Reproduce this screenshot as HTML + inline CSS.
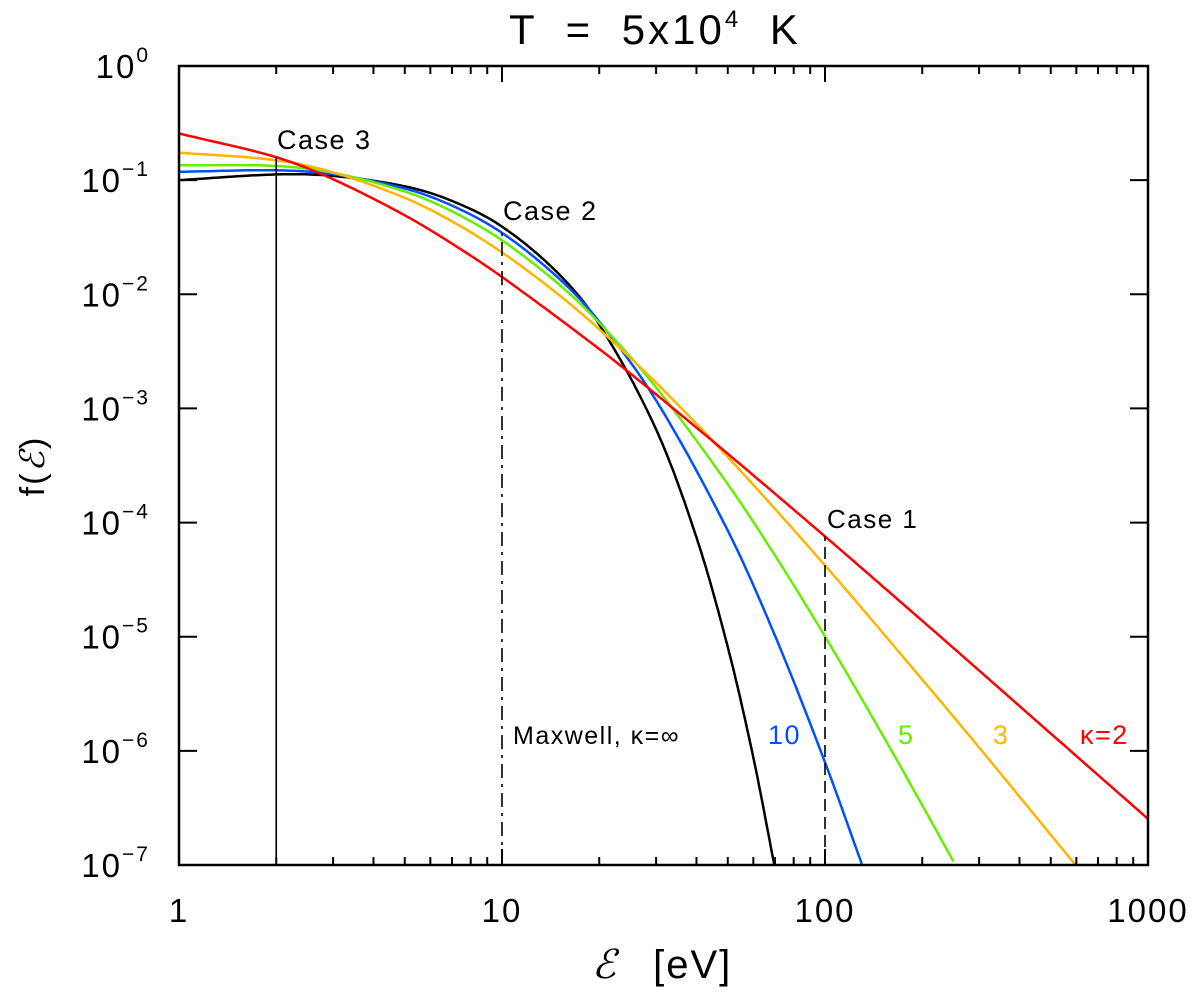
<!DOCTYPE html>
<html><head><meta charset="utf-8"><style>
body{margin:0;background:#fff}
svg text{font-family:"Liberation Sans","DejaVu Sans",sans-serif}
</style></head><body>
<svg id="chart" width="1200" height="992" viewBox="0 0 1200 992" xmlns="http://www.w3.org/2000/svg">
<text x="655" y="44" font-size="42" text-anchor="middle" letter-spacing="3" word-spacing="14">T = 5x10<tspan font-size="24" dy="-17">4</tspan><tspan dy="17"> K</tspan></text>
<text x="662" y="978" font-size="40" text-anchor="middle" letter-spacing="2" word-spacing="22"><tspan font-family="Liberation Serif" font-style="italic">ℰ</tspan> [eV]</text>
<text transform="translate(44,466) rotate(-90)" font-size="34" text-anchor="middle" letter-spacing="2">f(<tspan font-family="Liberation Serif" font-style="italic">ℰ</tspan>)</text>
<g id="plot"></g>
</svg>
<script>
// data (log10 of f) sampled from the figure
const maxwellE = [1,2,3,5,7,10,15,20,30,40,50,60,70];
const maxwellLogF = [-1.0,-0.95,-0.963,-1.054,-1.182,-1.407,-1.823,-2.264,-3.184,-4.13,-5.09,-6.058,-7.03];
const k10E = [1,2,3,5,7,10,15,20,30,50,70,100,130];
const k10LogF = [-0.927,-0.914,-0.948,-1.073,-1.223,-1.462,-1.861,-2.239,-2.93,-4.07,-4.99,-6.10,-6.99];
const k5E = [1,2,3,5,7,10,15,20,30,50,70,100,150,200,250];
const k5LogF = [-0.869,-0.876,-0.936,-1.099,-1.273,-1.527,-1.912,-2.25,-2.816,-3.663,-4.287,-4.997,-5.849,-6.475,-6.97];
const k3E = [1,2,3,5,7,10,15,20,30,50,100,200,300,500,600];
const k3LogF = [-0.759,-0.826,-0.932,-1.155,-1.361,-1.633,-2.005,-2.306,-2.775,-3.425,-4.375,-5.375,-5.97,-6.735,-7.008];
const k2E = [1,2,3,5,7,10,20,30,50,100,200,300,500,1000];
const k2LogF = [-0.591,-0.799,-0.992,-1.308,-1.556,-1.848,-2.479,-2.877,-3.397,-4.121,-4.86,-5.296,-5.848,-6.596];
const xTickLabels = ["1","10","100","1000"];
const yTickExps = [0,-1,-2,-3,-4,-5,-6,-7];

const X0=179,X1=1148,Y0=66,Y1=865;
const xs = e => X0 + (Math.log10(e)-0)/3*(X1-X0);
const ys = l => Y0 + (0-l)/7*(Y1-Y0);
const NS="http://www.w3.org/2000/svg";
const g=document.getElementById('plot');
function mk(tag,attrs){const el=document.createElementNS(NS,tag);for(const k in attrs)el.setAttribute(k,attrs[k]);g.appendChild(el);return el;}

const defs=mk('defs',{});
const cp=document.createElementNS(NS,'clipPath');cp.setAttribute('id','clip');
const cr=document.createElementNS(NS,'rect');cr.setAttribute('x',X0);cr.setAttribute('y',Y0);cr.setAttribute('width',X1-X0);cr.setAttribute('height',Y1-Y0);
cp.appendChild(cr);defs.appendChild(cp);

function interp(E,L){
  const lx=E.map(Math.log10);let pts=[];
  for(let i=0;i<lx.length-1;i++){
    const n=20;
    for(let j=0;j<n;j++){
      const t=j/n;
      const p0=L[Math.max(i-1,0)],p1=L[i],p2=L[i+1],p3=L[Math.min(i+2,L.length-1)];
      const x0=lx[Math.max(i-1,0)],x1=lx[i],x2=lx[i+1],x3=lx[Math.min(i+2,lx.length-1)];
      const m1=(p2-p0)/((x2-x0)||1),m2=(p3-p1)/((x3-x1)||1);
      const h=x2-x1,t2=t*t,t3=t2*t;
      const v=(2*t3-3*t2+1)*p1+(t3-2*t2+t)*h*m1+(-2*t3+3*t2)*p2+(t3-t2)*h*m2;
      pts.push([X0+(x1+t*h)/3*(X1-X0),ys(v)]);
    }
  }
  pts.push([xs(E[E.length-1]),ys(L[L.length-1])]);
  return 'M'+pts.map(p=>p[0].toFixed(1)+','+p[1].toFixed(1)).join('L');
}
const series=[[maxwellE,maxwellLogF,'#000','maxwell-curve'],[k10E,k10LogF,'#0050ff','kappa-10-curve'],[k5E,k5LogF,'#66ee00','kappa-5-curve'],[k3E,k3LogF,'#ffb400','kappa-3-curve'],[k2E,k2LogF,'#ff0000','kappa-2-curve']];
for(const s of series){
  const p=mk('path',{d:interp(s[0],s[1]),fill:'none',stroke:s[2],'stroke-width':2.5,'clip-path':'url(#clip)'});
  
  
}
function vline(e,l,dash,name){
  const ln=mk('line',{x1:xs(e),x2:xs(e),y1:Y1,y2:ys(l),stroke:'#000','stroke-width':1.6,'stroke-dasharray':dash});
  
  
}
vline(2,-0.799,'','case-3-line');
vline(10,-1.407,'14,6,3,6','case-2-line');
vline(100,-4.121,'12,6','case-1-line');
function txt(x,y,s,fill,size,name,anchor,ls){
  const t=mk('text',{x:x,y:y,'font-size':size,fill:fill,'text-anchor':anchor||'start','letter-spacing':ls||0});t.textContent=s;
  
  
  return t;
}
txt(277,149,'Case 3','#000',27,'case-3-label','start',1.5);
txt(503,220,'Case 2','#000',27,'case-2-label','start',1.5);
txt(827,528,'Case 1','#000',26,'case-1-label','start',1.5);
txt(513,744,'Maxwell, κ=∞','#000',25,'maxwell-label','start',1.5);
txt(768,744,'10','#0050ff',27,'kappa-10-label','start',1.5);
txt(898,744,'5','#66ee00',27,'kappa-5-label','start',1.5);
txt(993,744,'3','#ffb400',27,'kappa-3-label','start',1.5);
txt(1080,744,'κ=2','#ff0000',27,'kappa-2-label','start',1.5);

const fr=mk('rect',{x:X0,y:Y0,width:X1-X0,height:Y1-Y0,fill:'none',stroke:'#000','stroke-width':2.5});


for(let d=0;d<=3;d++){
  for(let m=1;m<=9;m++){
    if(d===3&&m>1)break;
    const x=xs(m*Math.pow(10,d));const len=m===1?16:8;
    const a=mk('line',{x1:x,x2:x,y1:Y1,y2:Y1-len,stroke:'#000','stroke-width':2});
    
    
    const b=mk('line',{x1:x,x2:x,y1:Y0,y2:Y0+len,stroke:'#000','stroke-width':2});
    
    
  }
}
xTickLabels.forEach((s,i)=>{txt(xs(Math.pow(10,i)),922,s,'#000',33,'x-tick-label','middle',2);});
yTickExps.forEach(e=>{
  const y=ys(e);
  const a=mk('line',{x1:X0,x2:X0+18,y1:y,y2:y,stroke:'#000','stroke-width':2});
  
  
  const b=mk('line',{x1:X1,x2:X1-18,y1:y,y2:y,stroke:'#000','stroke-width':2});
  
  
  const t=mk('text',{x:150,y:y+12,'font-size':33,'text-anchor':'end','letter-spacing':2});
  t.innerHTML='10<tspan font-size="21" dy="-16">'+(e===0?'0':'−'+(-e))+'</tspan>';
  
  
});
</script>
</body></html>
